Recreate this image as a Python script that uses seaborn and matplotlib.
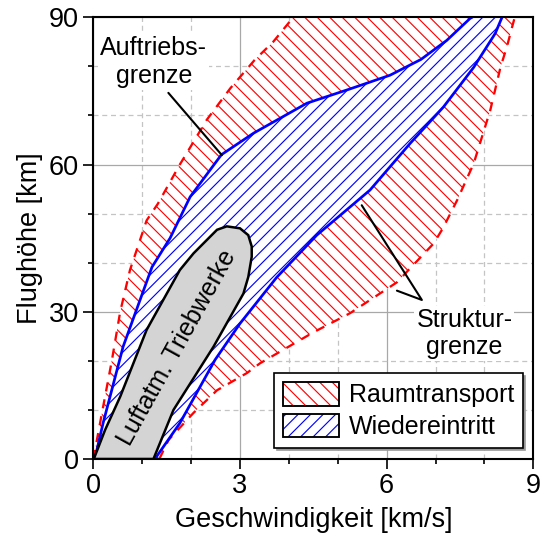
import numpy as np
import matplotlib
matplotlib.use("Agg")
import matplotlib.pyplot as plt
from matplotlib.ticker import MultipleLocator
from matplotlib.patches import Patch
from matplotlib.legend_handler import HandlerTuple
import seaborn as sns

# Flight envelopes: velocity [km/s] against altitude [km]

# Raumtransport envelope (red, dashed outline)
raum_left_v = [0.00, 0.20, 0.38, 0.55, 0.75, 1.09, 1.32, 1.77, 1.91, 2.32, 2.80, 3.30, 3.68, 4.09]
raum_left_h = [0.0, 10.6, 20.1, 30.0, 38.5, 48.6, 52.0, 60.0, 62.3, 69.1, 75.5, 81.3, 85.0, 90.0]
raum_right_v = [1.35, 1.54, 2.05, 2.53, 3.14, 3.41, 4.50, 5.25, 6.21, 6.96, 7.15, 7.44, 7.78, 8.12, 8.33, 8.46, 8.56, 8.62]
raum_right_h = [0.0, 3.9, 9.4, 14.0, 17.5, 19.5, 25.8, 29.7, 36.0, 43.9, 47.0, 52.7, 60.2, 71.1, 79.9, 84.0, 87.8, 90.0]

# Wiedereintritt envelope (blue, solid outline)
wieder_upper_v = [0.03, 0.20, 0.61, 1.20, 1.57, 1.98, 2.62, 3.28, 4.37, 5.25, 6.07, 6.70, 7.23, 7.71, 7.75]
wieder_upper_h = [0.0, 7.3, 22.9, 39.1, 45.0, 53.4, 62.0, 66.4, 72.5, 75.4, 78.2, 81.4, 85.3, 89.8, 90.0]
wieder_lower_v = [1.26, 1.77, 2.49, 3.00, 3.75, 4.57, 5.66, 6.48, 7.16, 7.78, 8.22, 8.36]
wieder_lower_h = [0.0, 7.3, 20.2, 27.6, 37.0, 45.6, 54.8, 64.3, 71.7, 79.8, 86.7, 90.0]

# Air-breathing propulsion region (closed outline)
triebwerk_v = [0.01, 0.24, 0.55, 1.09, 1.77, 2.05, 2.32, 2.53, 2.73, 3.00, 3.17, 3.24, 3.24, 3.17, 3.07, 2.46, 1.64, 1.23]
triebwerk_h = [0.0, 5.9, 12.7, 26.3, 38.5, 41.9, 44.6, 46.7, 47.4, 47.0, 45.6, 43.3, 41.2, 37.1, 33.7, 22.9, 10.0, 0.0]

x_ticks = [0, 3, 6, 9]
y_ticks = [0, 30, 60, 90]
legend_labels = ["Raumtransport", "Wiedereintritt"]

RED = "#ff0000"
BLUE = "#0000ff"
HATCH_RED = "\\" * 4
HATCH_BLUE = "/" * 4

sns.set_style("ticks")
plt.rcParams.update({
    "font.family": ["Liberation Sans", "DejaVu Sans"],
    "hatch.linewidth": 0.55,
    "axes.edgecolor": "black",
    "axes.linewidth": 1.0,
    "xtick.color": "black",
    "ytick.color": "black",
    "text.color": "black",
    "axes.labelcolor": "black",
})

fig, ax = plt.subplots(figsize=(546 / 150, 535 / 150), dpi=150)
fig.subplots_adjust(left=0.1709, right=0.9768, bottom=0.1421, top=0.9677)

# hatched envelopes
ax.fill(np.r_[raum_left_v, raum_right_v[::-1]], np.r_[raum_left_h, raum_right_h[::-1]],
        facecolor="white", edgecolor=RED, hatch=HATCH_RED, linewidth=0, zorder=1)
ax.fill(np.r_[wieder_upper_v, wieder_lower_v[::-1]], np.r_[wieder_upper_h, wieder_lower_h[::-1]],
        facecolor="white", edgecolor=BLUE, hatch=HATCH_BLUE, linewidth=0, zorder=2)

# envelope outlines
for vv, hh in [(raum_left_v, raum_left_h), (raum_right_v, raum_right_h)]:
    sns.lineplot(x=vv, y=hh, sort=False, estimator=None, ax=ax, color=RED,
                 linewidth=1.1, linestyle=(0, (4, 3.5)), zorder=3)
for vv, hh in [(wieder_upper_v, wieder_upper_h), (wieder_lower_v, wieder_lower_h)]:
    sns.lineplot(x=vv, y=hh, sort=False, estimator=None, ax=ax, color=BLUE,
                 linewidth=1.3, zorder=3)

ax.fill(triebwerk_v, triebwerk_h, facecolor="#d4d4d4", edgecolor="black",
        linewidth=1.2, zorder=4)
ax.text(1.71, 22.6, "Luftatm. Triebwerke", rotation=61, rotation_mode="anchor",
        ha="center", va="center", fontsize=12, zorder=5)

# boundary annotations (anchored at the baseline of the second line)
txt_kw = dict(ha="center", va="baseline", fontsize=12, multialignment="center",
              linespacing=1.2, zorder=6,
              bbox=dict(facecolor="white", edgecolor="none", pad=1))
ax.text(1.24, 76.7, "Auftriebs-\ngrenze", **txt_kw)
ax.text(7.59, 21.3, "Struktur-\ngrenze", **txt_kw)
ax.plot([1.535, 2.63], [74.6, 61.9], color="black", linewidth=1.0, zorder=6)
ax.plot([5.49, 6.72, 6.21], [51.7, 32.4, 34.3], color="black", linewidth=1.0, zorder=6)

# axes, ticks and grid
ax.set_xlim(0, 9)
ax.set_ylim(0, 90)
ax.set_xticks(x_ticks)
ax.set_yticks(y_ticks)
ax.xaxis.set_minor_locator(MultipleLocator(1))
ax.yaxis.set_minor_locator(MultipleLocator(10))
ax.set_axisbelow(True)
ax.grid(which="major", color="#a8a8a8", linewidth=0.6, linestyle="-")
ax.grid(which="minor", color="#c4c4c4", linewidth=0.6, linestyle=(0, (4, 3)))
ax.tick_params(which="major", direction="out", length=4.8, width=0.8, labelsize=13, pad=2)
ax.tick_params(which="minor", direction="out", length=2.4, width=0.8)
for sp in ax.spines.values():
    sp.set_visible(True)
    sp.set_linewidth(1.0)
    sp.set_color("black")
    sp.set_zorder(7)

ax.set_xlabel("Geschwindigkeit [km/s]", fontsize=13, labelpad=4)
ax.set_ylabel("Flughöhe [km]", fontsize=13, labelpad=3)

# legend with hatched swatches
handles = [
    (Patch(facecolor="white", edgecolor=RED, hatch=HATCH_RED, linewidth=0),
     Patch(facecolor="none", edgecolor="black", linewidth=0.9)),
    (Patch(facecolor="white", edgecolor=BLUE, hatch=HATCH_BLUE, linewidth=0),
     Patch(facecolor="none", edgecolor="black", linewidth=0.9)),
]
leg = ax.legend(handles, legend_labels, handler_map={tuple: HandlerTuple(ndivide=1, pad=0)},
                loc="lower right", bbox_to_anchor=(0.976, 0.0256), borderaxespad=0,
                fontsize=12, frameon=True, fancybox=False, framealpha=1,
                edgecolor="black",
                shadow={"ox": 1.2, "oy": -1.2, "color": "0.6", "alpha": 1},
                borderpad=0.35, labelspacing=0.25, handlelength=2.24,
                handleheight=1.08, handletextpad=0.4)
leg.get_frame().set_linewidth(0.8)
leg.set_zorder(8)

fig.savefig("out.png", dpi=150)
